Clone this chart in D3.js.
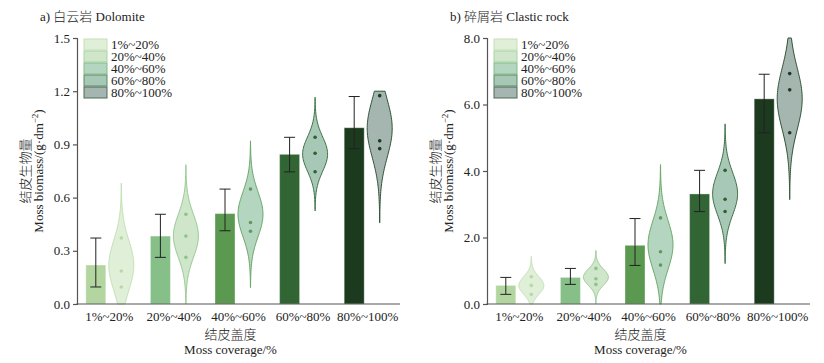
<html>
  <head>
    <style>
      body { margin: 0; background: #fff; }
      text { font-family: "Liberation Serif", "Times New Roman", "Noto Sans CJK SC", serif; fill: #222; }
      .cjk { font-weight: 300; }
      .axis path, .axis line { stroke: #555; stroke-width: 1.2px; }
    </style>
  </head>
  <body>
    <script src="https://cdnjs.cloudflare.com/ajax/libs/d3/7.8.5/d3.min.js"></script>
    <script>
    // categories and values
    var cats = ["1%~20%", "20%~40%", "40%~60%", "60%~80%", "80%~100%"];

    var doloPoints = [[0.372, 0.186, 0.096], [0.506, 0.383, 0.263], [0.648, 0.46, 0.41], [0.94, 0.85, 0.746], [1.175, 0.92, 0.876]];
    var doloMeans = [0.22, 0.383, 0.51, 0.844, 0.994];
    var doloErrLo = [0.096, 0.263, 0.413, 0.745, 0.876];
    var doloErrHi = [0.372, 0.506, 0.648, 0.94, 1.17];
    var doloViolinTop = [1.5, 1.5, 1.5, 1.5, 1.2];
    var doloTicks = [0, 0.3, 0.6, 0.9, 1.2, 1.5];

    var clastPoints = [[0.82, 0.56, 0.29], [1.07, 0.76, 0.59], [2.59, 1.57, 1.17], [4.02, 3.15, 2.78], [6.93, 6.44, 5.15]];
    var clastMeans = [0.56, 0.80, 1.765, 3.31, 6.17];
    var clastErrLo = [0.29, 0.59, 1.16, 2.78, 5.15];
    var clastErrHi = [0.80, 1.07, 2.57, 4.02, 6.91];
    var clastViolinTop = [8, 8, 8, 8, 8];
    var clastTicks = [0, 2, 4, 6, 8];

    //colours
    var barColors = ["#b3d6a1", "#86bf87", "#5c9950", "#316534", "#1c3a1d"];
    var violinFill = ["#e0efd8", "#cfe6cb", "#b4d6c0", "#a7c8b6", "#a5b5b0"];
    var violinStroke = ["#c4e1b5", "#98ca93", "#6aa865", "#3c7043", "#2e5233"];
    var dotColors = ["#b6d9a6", "#8cc48c", "#5d9c58", "#2f5f30", "#1c3b1f"];
    var legendStroke = ["#c5e0b8", "#a9d3a3", "#86bb8a", "#5a8a62", "#4f6a55"];

    var width = 824, height = 363;
    var svg = d3.select("body").append("svg")
        .attr("width", width)
        .attr("height", height);

    function panel(ox, cfg) {
      var g = svg.append("g").attr("transform", "translate(" + ox + ",0)");
      var x0 = 77, x1 = 400, yTop = 38, yBot = 304;

      var x = d3.scaleBand().domain(cats).range([x0, x1]);
      var y = d3.scaleLinear().domain([0, cfg.max]).range([yBot, yTop]);

      // title
      g.append("text").attr("class", "cjk").attr("x", 40).attr("y", 21).attr("font-size", 13).text(cfg.title);

      // bars
      g.selectAll(".bar").data(cats).enter().append("rect")
          .attr("x", function(d) { return x(d) + x.bandwidth() / 2 - 13.5 - 10; })
          .attr("width", 20)
          .attr("y", function(d, i) { return y(cfg.means[i]); })
          .attr("height", function(d, i) { return yBot - y(cfg.means[i]); })
          .attr("fill", function(d, i) { return barColors[i]; })
          .attr("stroke", "rgba(255,255,255,0.35)")
          .attr("stroke-width", 1);

      // error bars
      cats.forEach(function(c, i) {
        var cx = x(c) + x.bandwidth() / 2 - 13.5;
        var eg = g.append("g").attr("stroke", "#222").attr("stroke-width", 1);
        eg.append("line").attr("x1", cx).attr("x2", cx).attr("y1", y(cfg.lo[i])).attr("y2", y(cfg.hi[i]));
        eg.append("line").attr("x1", cx - 5.5).attr("x2", cx + 5.5).attr("y1", y(cfg.lo[i])).attr("y2", y(cfg.lo[i]));
        eg.append("line").attr("x1", cx - 5.5).attr("x2", cx + 5.5).attr("y1", y(cfg.hi[i])).attr("y2", y(cfg.hi[i]));
      });

      // violins: normal density from the points
      cats.forEach(function(c, i) {
        var cx = x(c) + x.bandwidth() / 2 + 12;
        var pts = cfg.points[i];
        var m = d3.mean(pts), s = d3.deviation(pts);
        var lo = Math.max(0, m - 3.3 * s), hi = Math.min(cfg.vtop[i], m + 3.3 * s);
        var n = 80, samples = [];
        for (var k = 0; k <= n; k++) {
          var v = lo + (hi - lo) * k / n;
          samples.push({v: v, d: Math.exp(-0.5 * Math.pow((v - m) / s, 2))});
        }
        var w = d3.scaleLinear().domain([0, 1]).range([0, 12.5]);
        var area = d3.area()
            .y(function(d) { return y(d.v); })
            .x0(function(d) { return cx - w(d.d); })
            .x1(function(d) { return cx + w(d.d); })
            .curve(d3.curveBasis);
        g.append("path").datum(samples)
            .attr("d", area)
            .attr("fill", violinFill[i])
            .attr("stroke", violinStroke[i])
            .attr("stroke-width", 1);
        g.selectAll(null).data(pts).enter().append("circle")
            .attr("cx", cx)
            .attr("cy", function(d) { return y(d); })
            .attr("r", 1.8)
            .attr("fill", dotColors[i]);
      });

      // axes
      var ya = g.append("g").attr("class", "axis")
          .attr("transform", "translate(" + x0 + ",0)")
          .call(d3.axisLeft(y).tickValues(cfg.ticks).tickFormat(d3.format(".1f")).tickSizeOuter(0).tickSize(4).tickPadding(3));
      ya.selectAll("text").attr("font-size", 13).attr("font-family", "Liberation Serif, serif").attr("fill", "#222");

      var xa = g.append("g").attr("class", "axis")
          .attr("transform", "translate(0," + yBot + ")")
          .call(d3.axisBottom(x).tickSize(0).tickPadding(5));
      xa.select(".domain").attr("d", "M" + (x0 - 0.6) + ",0H" + x1);
      xa.selectAll("text").attr("font-size", 13).attr("font-family", "Liberation Serif, serif").attr("fill", "#222")
          .attr("dy", "0.95em");

      // axis titles
      var cxm = (x0 + x1) / 2 - 8;
      g.append("text").attr("class", "cjk").attr("x", cxm).attr("y", 339).attr("text-anchor", "middle").attr("font-size", 13).text("结皮盖度");
      g.append("text").attr("x", cxm).attr("y", 354).attr("text-anchor", "middle").attr("font-size", 13).text("Moss coverage/%");

      var yl = g.append("g").attr("transform", "translate(0,171) rotate(-90)");
      yl.append("text").attr("class", "cjk").attr("x", 0).attr("y", 30).attr("text-anchor", "middle").attr("font-size", 13).text("结皮生物量");
      var en = yl.append("text").attr("x", 0).attr("y", 43).attr("text-anchor", "middle").attr("font-size", 13);
      en.append("tspan").text("Moss biomass/(g·dm");
      en.append("tspan").attr("font-size", 9).attr("dy", -5).text("−2");
      en.append("tspan").attr("dy", 5).text(")");

      // legend
      var lg = g.append("g").attr("transform", "translate(84,39)");
      cats.forEach(function(c, i) {
        lg.append("rect").attr("x", 0).attr("y", i * 12).attr("width", 23).attr("height", 11)
            .attr("fill", violinFill[i]).attr("stroke", legendStroke[i]).attr("stroke-width", 1);
        lg.append("text").attr("x", 27).attr("y", i * 12 + 10).attr("font-size", 13).text(c);
      });
    }

    panel(0, {title: "a) 白云岩 Dolomite", max: 1.5, ticks: doloTicks, points: doloPoints, means: doloMeans,
      lo: doloErrLo, hi: doloErrHi, vtop: doloViolinTop});
    panel(410, {title: "b) 碎屑岩 Clastic rock", max: 8, ticks: clastTicks, points: clastPoints, means: clastMeans,
      lo: clastErrLo, hi: clastErrHi, vtop: clastViolinTop});
    </script>
  </body>
</html>
